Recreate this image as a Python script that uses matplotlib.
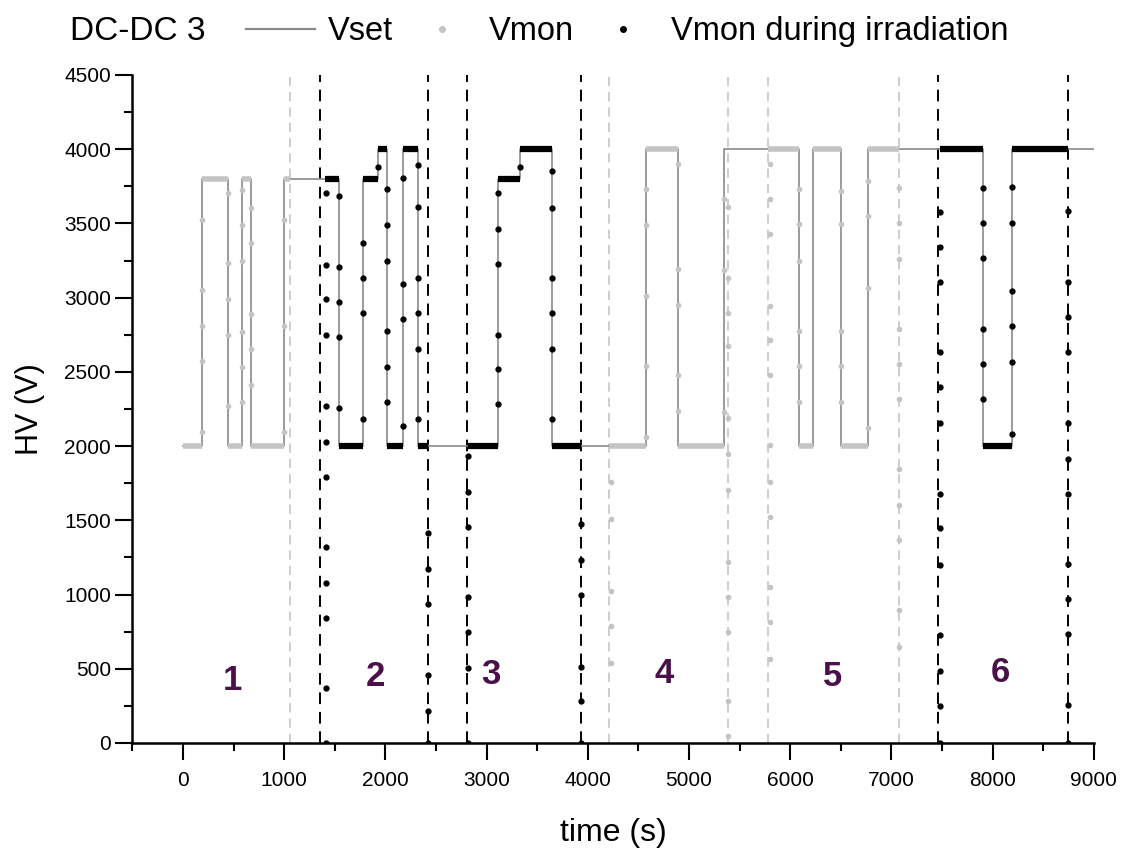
import numpy as np
import matplotlib.pyplot as plt
from matplotlib.lines import Line2D

plt.rcParams['font.family'] = ['Liberation Sans', 'DejaVu Sans']

# Vset: instantes de cambio (s) y nivel (V) a partir de cada instante
vset_t = [0, 188, 445, 583, 672, 998, 1537, 1774, 1927, 2016, 2174, 2317,
          3108, 3330, 3646, 4575, 4891, 5346, 6087, 6225, 6502, 6769,
          7905, 8192, 9000]
vset_v = [2000, 3800, 2000, 3800, 2000, 3800, 2000, 3800, 4000, 2000, 4000, 2000,
          3800, 4000, 2000, 4000, 2000, 4000, 2000, 4000, 2000, 4000,
          2000, 4000, 4000]

# Vmon (gris): tramos planos densos (inicio, fin, nivel)
gris_ini = [0, 188, 445, 583, 672, 998, 4212, 4575, 4891, 5781, 6087, 6225, 6502, 6769]
gris_fin = [188, 445, 583, 672, 998, 1057, 4575, 4891, 5346, 6087, 6225, 6502, 6769, 7075]
gris_niv = [2000, 3800, 2000, 3800, 2000, 3800, 2000, 4000, 2000, 4000, 2000, 4000, 2000, 4000]

# Vmon (gris): puntos sueltos en las rampas
gris_rampa_t = [188, 445, 583, 672, 998, 4229, 4575, 4891, 5346, 5385, 5800,
                6087, 6502, 6769, 7075]
gris_rampa_v = [
    [3523, 3052, 2809, 2573, 2095],
    [3705, 3234, 2991, 2749, 2270],
    [3725, 3490, 3247, 2769, 2533, 2297],
    [3604, 3368, 2890, 2654, 2412],
    [3523, 2809, 2095],
    [1758, 1509, 1025, 788, 541],
    [3732, 3490, 3011, 2540, 2058],
    [3902, 3191, 2953, 2477, 2237],
    [3665, 3183, 2230],
    [3611, 3133, 2897, 2674, 2189, 1947, 1704, 1221, 986, 751, 280, 44],
    [3902, 3667, 3431, 2947, 2712, 2477, 2006, 1758, 1523, 1051, 815, 566],
    [3732, 3496, 3247, 2776, 2540, 2297],
    [3719, 3496, 2776, 2540, 2297],
    [3786, 3550, 3065, 2122],
    [3739, 3503, 3261, 2789, 2553, 2320, 1849, 1603, 1368, 896, 647],
]

# Vmon durante irradiacion (negro): tramos planos
negro_ini = [1403, 1537, 1774, 1927, 2016, 2174, 2317, 2816, 3108, 3330, 3646, 7480, 7905, 8192]
negro_fin = [1537, 1774, 1927, 2016, 2174, 2317, 2424, 3108, 3330, 3646, 3936, 7905, 8192, 8745]
negro_niv = [3800, 2000, 3800, 4000, 2000, 4000, 2000, 2000, 3800, 4000, 2000, 4000, 2000, 4000]

# Vmon durante irradiacion (negro): puntos en las rampas
negro_rampa_t = [1413, 1537, 1774, 1927, 2016, 2174, 2317, 2424, 2816, 3108, 3330,
                 3646, 3936, 7480, 7905, 8192, 8745]
negro_rampa_v = [
    [3705, 3220, 2991, 2749, 2270, 2028, 1792, 1320, 1078, 842, 371, 0],
    [3685, 3207, 2971, 2735, 2257],
    [3368, 3133, 2897, 2183],
    [3880],
    [3732, 3490, 3247, 2776, 2533, 2297],
    [3806, 3092, 2856, 2136],
    [3894, 3611, 3133, 2897, 2654, 2183],
    [1415, 1172, 936, 458, 216, 0],
    [1933, 1691, 1455, 984, 748, 505, 0],
    [3706, 3465, 3227, 2751, 2516, 2281],
    [3881],
    [3850, 3607, 3131, 2895, 2655, 2181],
    [1475, 1235, 1000, 515, 280, 0],
    [3577, 3341, 3106, 2634, 2398, 2156, 1677, 1448, 1199, 728, 485, 249, 0],
    [3739, 3503, 3267, 2789, 2553, 2320],
    [3746, 3503, 3045, 2809, 2567, 2082],
    [3584, 3106, 2870, 2634, 2156, 1916, 1677, 1203, 970, 734, 256, 0],
]

# Lineas verticales discontinuas (inicio/fin de cada fase)
lineas_grises = [1057, 4212, 5385, 5781, 7075]
lineas_negras = [1354, 2424, 2803, 3936, 7460, 8745]

# Etiquetas de las fases
fase_txt = ['1', '2', '3', '4', '5', '6']
fase_t = [484, 1897, 3043, 4753, 6423, 8073]
fase_v = [424, 445, 458, 471, 451, 478]

GRIS = '#c4c4c4'
fig = plt.figure(figsize=(11.3, 8.5), dpi=100)
ax = fig.add_axes([0.1172, 0.1259, 0.8508, 0.7859])

for t in lineas_grises:
    ax.axvline(t, color='#c0c0c0', lw=1.1, ls=(0, (6, 4)), zorder=1)
for t in lineas_negras:
    ax.axvline(t, color='black', lw=1.4, ls=(0, (6, 4)), zorder=1)

ax.step(vset_t, vset_v, where='post', color='#8a8a8a', lw=1.2, zorder=2)

ax.hlines(gris_niv, gris_ini, gris_fin, color=GRIS, lw=4, zorder=3)
ax.hlines(negro_niv, negro_ini, negro_fin, color='black', lw=4.5, zorder=4)

for t, vals in zip(gris_rampa_t, gris_rampa_v):
    ax.plot([t] * len(vals), vals, 'o', color=GRIS, ms=3, zorder=3)
for t, vals in zip(negro_rampa_t, negro_rampa_v):
    ax.plot([t] * len(vals), vals, 'o', color='black', ms=3.5, zorder=4)

for s, t, v in zip(fase_txt, fase_t, fase_v):
    ax.text(t, v, s, color='#4a1149', fontsize=25, fontweight='bold',
            ha='center', va='center')

ax.set_xlim(-500, 9000)
ax.set_ylim(0, 4500)
ax.set_xticks(np.arange(0, 9001, 1000))
ax.set_xticks(np.arange(-500, 9001, 500), minor=True)
ax.set_yticks(np.arange(0, 4501, 500))
ax.set_yticks(np.arange(0, 4501, 250), minor=True)
ax.tick_params(which='major', length=12, width=1.5, labelsize=15, direction='out')
ax.tick_params(which='minor', length=6, width=1.5, direction='out')
ax.tick_params(axis='x', which='major', pad=8)
ax.spines['top'].set_visible(False)
ax.spines['right'].set_visible(False)
ax.spines['left'].set_linewidth(1.8)
ax.spines['bottom'].set_linewidth(1.8)
ax.set_xlabel('time (s)', fontsize=23, labelpad=20)
ax.set_ylabel('HV (V)', fontsize=22, labelpad=14)

fig.text(0.062, 0.963, 'DC-DC 3', fontsize=24, va='center', ha='left')
handles = [Line2D([], [], color='#8a8a8a', lw=1.6),
           Line2D([], [], ls='none', marker='o', color=GRIS, ms=4),
           Line2D([], [], ls='none', marker='o', color='black', ms=4)]
fig.legend(handles, ['Vset', 'Vmon', 'Vmon during irradiation'],
           loc='center left', bbox_to_anchor=(0.192, 0.963), ncol=3, frameon=False,
           fontsize=23.5, handlelength=2.1, handletextpad=0.4, columnspacing=0.45)

plt.savefig('out.png', dpi=100)
